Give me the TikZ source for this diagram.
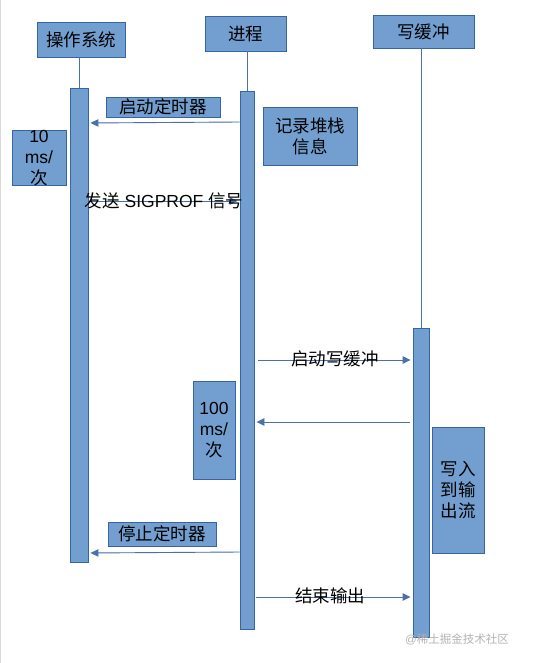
\documentclass[tikz,border=0pt]{standalone}
\usepackage{fontspec}
\setmainfont{Liberation Sans}
\newfontfamily\cjk{Noto Sans CJK SC}
\newcommand{\zh}[1]{{\cjk #1}}
\usepackage{tikz}
\usetikzlibrary{arrows.meta}
\definecolor{barfill}{HTML}{729FCF}
\definecolor{bardraw}{HTML}{3465A4}
\definecolor{msgline}{HTML}{4A72A8}
\tikzset{
  blk/.style={draw=bardraw, fill=barfill, line width=0.9pt, inner sep=0pt,
              align=center, font=\fontsize{17.5}{21}\selectfont},
  bar/.style={draw=bardraw, fill=barfill, line width=0.9pt, inner sep=0pt},
  life/.style={draw=msgline, line width=0.8pt},
  msg/.style={-{Triangle[length=8pt,width=7.5pt]}, draw=msgline, fill=msgline,
              line width=0.9pt, shorten >=2pt},
  lbl/.style={inner sep=0pt, font=\fontsize{17.5}{21}\selectfont}
}

\begin{document}
\begin{tikzpicture}[x=1pt, y=-1pt]
    \useasboundingbox (0,0) rectangle (535,663);
    \draw[black!15, line width=1pt] (0.5,0) -- (0.5,663);

    % participants
    \node[blk, minimum width=88pt, minimum height=35pt] (osHead) at (81,39.5) {\zh{操作系统}};
    \node[blk, minimum width=81pt, minimum height=35pt] (procHead) at (245.5,33.5) {\zh{进程}};
    \node[blk, minimum width=101pt, minimum height=33pt] (bufHead) at (423.5,31.5) {\zh{写缓冲}};

    % activation bars
    \node[bar, minimum width=18pt, minimum height=474pt] (osBar) at (79,325) {};
    \node[bar, minimum width=14pt, minimum height=538pt] (procBar) at (247,360) {};
    \node[bar, minimum width=16pt, minimum height=309pt] (bufBar) at (421,482.5) {};

    \draw[life] (osHead.south -| osBar.north) -- (osBar.north);
    \draw[life] (procHead.south -| procBar.north) -- (procBar.north);
    \draw[life] (bufHead.south -| bufBar.north) -- (bufBar.north);

    % notes
    \node[blk, minimum width=114pt, minimum height=20pt] (startTimer) at (163,107) {\zh{启动定时器}};
    \node[blk, minimum width=54pt, minimum height=54pt, text width=54pt] (tenMs) at (39,158) {10\\ms/\\\zh{次}};
    \node[blk, minimum width=94pt, minimum height=58pt] (recStack) at (310,136) {\zh{记录堆栈}\\\zh{信息}};
    \node[blk, minimum width=42pt, minimum height=98pt, text width=42pt] (hundredMs) at (214,430) {100\\ms/\\\zh{次}};
    \node[blk, minimum width=52pt, minimum height=126pt, text width=52pt] (writeOut) at (458,490) {\zh{写入}\\\zh{到输}\\\zh{出流}};
    \node[blk, minimum width=108pt, minimum height=24pt] (stopTimer) at (162,534) {\zh{停止定时器}};

    % messages
    \draw[msg] (procBar.west |- 0,122) -- (osBar.east |- 0,123);
    \draw[msg] (osBar.east |- 0,201) -- (procBar.west |- 0,201);
    \node[lbl] (sigprof) at (164,201) {\zh{发送} SIGPROF \zh{信号}};
    \draw[msg, shorten <=4pt] (procBar.east |- 0,360) -- (bufBar.west |- 0,360);
    \node[lbl] (startBuf) at (335,359) {\zh{启动写缓冲}};
    \draw[msg, shorten <=3pt] (bufBar.west |- 0,422) -- (procBar.east |- 0,422);
    \draw[msg] (procBar.west |- 0,552) -- (osBar.east |- 0,553);
    \draw[msg, shorten <=2pt] (procBar.east |- 0,597) -- (bufBar.west |- 0,597);
    \node[lbl] (endOut) at (330,596) {\zh{结束输出}};

    \node[inner sep=0pt, text=black!30, font=\fontsize{11.5}{13}\selectfont] (mark) at (457,639) {@\zh{稀土掘金技术社区}};
  \end{tikzpicture}
\end{document}
